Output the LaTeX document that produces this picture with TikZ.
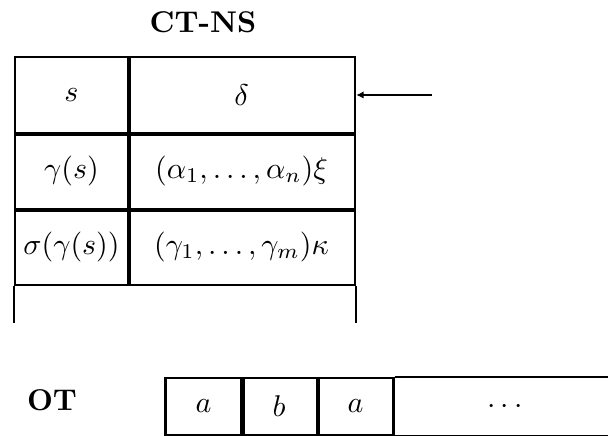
\documentclass[tikz,border=0pt]{standalone}
\usetikzlibrary{arrows.meta}
\tikzset{
  cell/.style={draw,line width=0.8pt,inner sep=0pt,minimum height=25.33pt},
  tapecell/.style={draw,line width=0.8pt,inner sep=0pt,minimum width=25.33pt,minimum height=19pt},
  divider/.style={line width=1.3pt},
}
\begin{document}
\begin{tikzpicture}[x=0.3333pt,y=-0.3333pt]
  \useasboundingbox (0,0) rectangle (608,436);
  \node (title) at (203,22) {\bfseries CT-NS};

  % the stack
  \node[cell,minimum width=37.67pt] (s) at (71.5,95) {$s$};
  \node[cell,minimum width=75.67pt] (delta) at (241.5,95) {$\delta$};
  \node[cell,minimum width=37.67pt] (gam) at (71.5,171) {$\gamma(s)$};
  \node[cell,minimum width=75.67pt] (alpha) at (241.5,171) {$(\alpha_1,\ldots,\alpha_n)\xi$};
  \node[cell,minimum width=37.67pt] (sig) at (71.5,247) {$\sigma(\gamma(s))$};
  \node[cell,minimum width=75.67pt] (kap) at (241.5,247) {$(\gamma_1,\ldots,\gamma_m)\kappa$};
  \draw[divider] (s.north east) -- (sig.south east);
  \draw[divider] (s.south west) -- (delta.south east);
  \draw[divider] (gam.south west) -- (alpha.south east);
  \draw[line width=0.8pt] (sig.south west) -- ++(0,37);
  \draw[line width=0.8pt] (kap.south east) -- ++(0,37);

  \coordinate (top) at (432,95);
  \draw[line width=0.8pt,-{Latex[length=2.5pt,width=2.5pt]}] (top) -- (delta.east);

  % the tape
  \node (ot) at (52,400) {\bfseries OT};
  \foreach \x/\t/\n in {203.5/a/ta, 279/b/tb, 355.5/a/tc}
    \node[tapecell] (\n) at (\x,406.5) {$\t$};
  \draw[divider] (ta.north east) -- (ta.south east);
  \draw[divider] (tb.north east) -- (tb.south east);
  \draw[line width=0.8pt] (tc.north east) -- ++(216,0);
  \draw[line width=0.8pt] (tc.south east) -- ++(216,0);
  \node (dots) at (505,406.5) {$\cdots$};
\end{tikzpicture}
\end{document}
